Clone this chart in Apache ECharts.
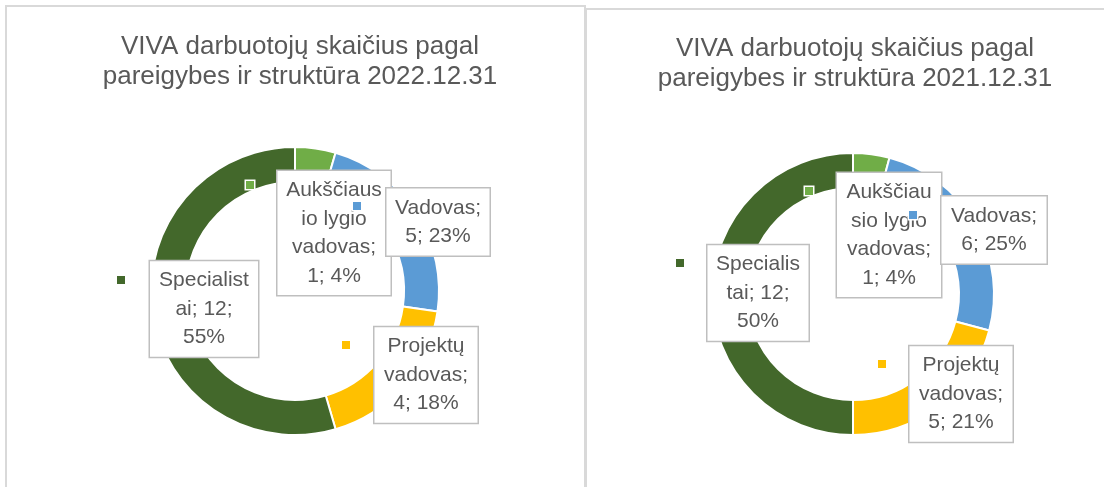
<!DOCTYPE html>
<html>
<head>
<meta charset="utf-8">
<script src="https://cdn.jsdelivr.net/npm/echarts@6/dist/echarts.min.js"></script>
<style>
html, body { margin: 0; padding: 0; background: #fff; overflow: hidden; }
#main { position: absolute; left: 0; top: 0; width: 1104px; height: 487px; }
.frame { position: absolute; border: 2px solid #d9d9d9; pointer-events: none; }
</style>
</head>
<body>
<div id="main"></div>
<div class="frame" style="left:5px;top:5px;width:577px;height:520px;"></div>
<div class="frame" style="left:585px;top:8px;width:560px;height:520px;"></div>
<script>
// duomenys
var categories = ['Aukščiausio lygio vadovas', 'Vadovas', 'Projektų vadovas', 'Specialistai'];
var values2022 = [1, 5, 4, 12];
var values2021 = [1, 6, 5, 12];
// procentai taip, kaip parodyti paveiksle
var percent2022 = [4, 23, 18, 55];
var percent2021 = [4, 25, 21, 50];
var colors = ['#70ad47', '#5b9bd5', '#ffc000', '#43682b'];

// etikeciu ir zymekliu vietos bei plociai (px)
var boxPos2022 = [[334, 233], [438, 222], [426, 375], [204, 309]];
var boxWidth2022 = [113, 103, 103, 108];
var markPos2022 = [[250, 185], [357, 206], [346, 345], [121, 280]];
var boxPos2021 = [[889, 235], [994, 230], [961, 394], [758, 293]];
var boxWidth2021 = [104, 105, 103, 101];
var markPos2021 = [[809, 191], [913, 215], [882, 364], [680, 263]];

var textColor = '#595959';
var font = "'Liberation Sans', Arial, sans-serif";
var labelSize = 21;

var ctx = document.createElement('canvas').getContext('2d');
function measure(s) {
    ctx.font = labelSize + 'px ' + font;
    return ctx.measureText(s).width;
}

// zodziu lauzymas kaip Excel etiketese
function wrapText(text, maxWidth) {
    var words = text.split(' ');
    var lines = [];
    var line = '';
    words.forEach(function (w) {
        var test = line ? line + ' ' + w : w;
        if (measure(test) <= maxWidth) {
            line = test;
            return;
        }
        if (line) {
            lines.push(line);
            line = '';
        }
        while (measure(w) > maxWidth) {
            var k = 1;
            while (k < w.length && measure(w.slice(0, k + 1)) <= maxWidth) k++;
            lines.push(w.slice(0, k));
            w = w.slice(k);
        }
        line = w;
    });
    if (line) lines.push(line);
    return lines.join('\n');
}

function makeData(values, boxWidths) {
    return categories.map(function (name, i) {
        return {
            name: name,
            value: values[i],
            itemStyle: {color: colors[i]},
            label: {width: boxWidths[i] - 10}
        };
    });
}

function markerData(values) {
    return categories.map(function (name, i) {
        return {
            name: name,
            value: values[i],
            itemStyle: {color: 'rgba(0,0,0,0)', borderWidth: 0},
            label: {backgroundColor: colors[i]}
        };
    });
}

function donut(center, radius, values, percents, boxPos, boxWidths, wrapWidth) {
    return {
        type: 'pie',
        center: center,
        radius: radius,
        startAngle: 90,
        clockwise: true,
        silent: true,
        animation: false,
        itemStyle: {borderColor: '#fff', borderWidth: 2},
        label: {
            show: true,
            position: 'inside',
            formatter: function (p) {
                return wrapText(p.name + '; ' + p.value + '; ' + percents[p.dataIndex] + '%', wrapWidth);
            },
            overflow: 'none',
            color: textColor,
            fontFamily: font,
            fontSize: labelSize,
            lineHeight: 28.5,
            align: 'center',
            backgroundColor: '#fff',
            borderColor: '#bfbfbf',
            borderWidth: 1.5,
            padding: [5, 5]
        },
        labelLine: {show: false},
        labelLayout: function (p) {
            var c = boxPos[p.dataIndex];
            return {x: c[0], y: c[1], align: 'center', verticalAlign: 'middle'};
        },
        data: makeData(values, boxWidths)
    };
}

function markers(center, radius, values, markPos) {
    return {
        type: 'pie',
        center: center,
        radius: radius,
        startAngle: 90,
        silent: true,
        animation: false,
        label: {
            show: true,
            position: 'inside',
            formatter: ' ',
            fontSize: 1,
            width: 8,
            height: 8,
            padding: 0,
            overflow: 'none',
            borderColor: '#fff',
            borderWidth: 1.5
        },
        labelLine: {show: false},
        labelLayout: function (p) {
            var c = markPos[p.dataIndex];
            return {x: c[0], y: c[1], align: 'center', verticalAlign: 'middle'};
        },
        data: markerData(values)
    };
}

var titleStyle = {
    color: textColor,
    fontFamily: font,
    fontSize: 26,
    fontWeight: 'normal',
    lineHeight: 30
};

var chart = echarts.init(document.getElementById('main'));
var option = {
    backgroundColor: '#fff',
    animation: false,
    title: [
        {
            text: 'VIVA darbuotojų skaičius pagal\npareigybes ir struktūra 2022.12.31',
            left: 295,
            top: 27,
            textAlign: 'center',
            textStyle: titleStyle
        },
        {
            text: 'VIVA darbuotojų skaičius pagal\npareigybes ir struktūra 2021.12.31',
            left: 850,
            top: 29,
            textAlign: 'center',
            textStyle: titleStyle
        }
    ],
    series: [
        donut([295, 291], [109, 144], values2022, percent2022, boxPos2022, boxWidth2022, 98),
        donut([853, 294], [106, 141], values2021, percent2021, boxPos2021, boxWidth2021, 88.7),
        markers([295, 291], [109, 144], values2022, markPos2022),
        markers([853, 294], [106, 141], values2021, markPos2021)
    ]
};
chart.setOption(option);
</script>
</body>
</html>
